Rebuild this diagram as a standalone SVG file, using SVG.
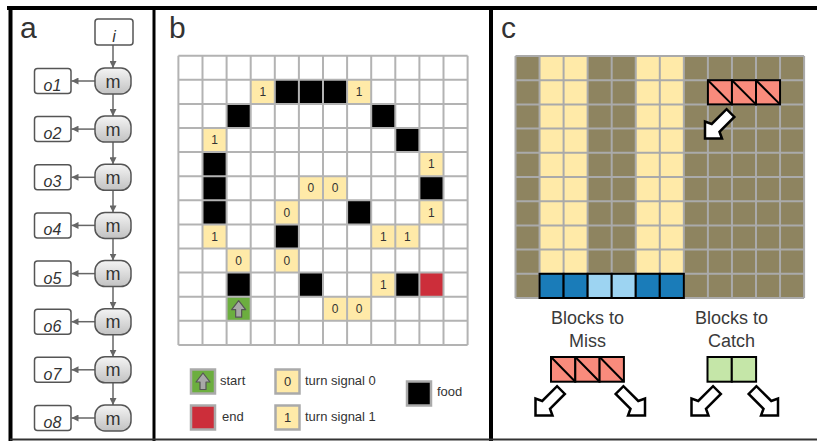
<svg xmlns="http://www.w3.org/2000/svg" width="817" height="441" viewBox="0 0 817 441">
<defs>
<linearGradient id="mg" x1="0" y1="0" x2="0" y2="1">
<stop offset="0" stop-color="#f4f4f4"/>
<stop offset="1" stop-color="#c2c2c2"/>
</linearGradient>
<marker id="ah" viewBox="0 0 10 10" refX="10" refY="5" markerWidth="7" markerHeight="7" markerUnits="userSpaceOnUse" orient="auto">
<path d="M0,0 L10,5 L0,10 z" fill="#666"/>
</marker>
<polygon id="barrow" points="0,0 -12,-12 -15,-5.5 -36,-5.5 -36,5.5 -15,5.5 -12,12" fill="#fff" stroke="#000" stroke-width="2.5" stroke-linejoin="miter"/>
<path id="uparrow" d="M0,-8.5 L7,0.5 L3,0.5 L3,8 L-3,8 L-3,0.5 L-7,0.5 Z" fill="#a8a8a8" stroke="#555" stroke-width="1.2" stroke-linejoin="round"/>
</defs>
<style>
.lbl{font-family:"Liberation Sans",Arial,sans-serif;font-size:30px;fill:#333}
.ob{fill:#fff;stroke:#555;stroke-width:1.5}
.mb{fill:url(#mg);stroke:#555;stroke-width:1.5}
.it{font-family:"Liberation Sans",Arial,sans-serif;font-size:16px;font-style:italic;fill:#333;text-anchor:middle}
.mt{font-family:"Liberation Sans",Arial,sans-serif;font-size:18px;fill:#333;text-anchor:middle}
.conn line{stroke:#666;stroke-width:1.5;marker-end:url(#ah)}
.bk{fill:#000}
.yl{fill:#ffeaa8}
.rd{fill:#cc2e3a}
.gr{fill:#6cae3f}
.ct{font-family:"Liberation Sans",Arial,sans-serif;font-size:12px;fill:#333;text-anchor:middle}
.lg{font-family:"Liberation Sans",Arial,sans-serif;font-size:13px;fill:#333}
.lgb{stroke:#aaa;stroke-width:2.5}
.gl{fill:none;stroke:#b3b3b3;stroke-width:2}
.bt{font-family:"Liberation Sans",Arial,sans-serif;font-size:18px;fill:#3a3a3a;text-anchor:middle}
.rb{fill:#f98b7c;stroke:#000;stroke-width:2}
.gb{fill:#c5e6a8;stroke:#000;stroke-width:2}
.dg{stroke:#000;stroke-width:2}
</style>
<rect x="0" y="0" width="817" height="441" fill="#fff"/>
<!-- frames -->
<g id="frames" fill="none" stroke="#000">
<line x1="7" y1="8" x2="817" y2="8" stroke-width="4"/>
<line x1="10.5" y1="6" x2="10.5" y2="441" stroke-width="4"/>
<line x1="154" y1="6" x2="154" y2="441" stroke-width="3"/>
<line x1="491" y1="6" x2="491" y2="441" stroke-width="4"/>
<line x1="10" y1="439.5" x2="817" y2="439.5" stroke-width="2" stroke="#333"/>
</g>
<!-- Panel a -->
<text class="lbl" x="20" y="37.5">a</text>
<g id="connectors-a" class="conn">
<line x1="113" y1="45" x2="113" y2="68"/>
<line x1="113" y1="94" x2="113" y2="116.1"/>
<line x1="113" y1="142.1" x2="113" y2="164.3"/>
<line x1="113" y1="190.3" x2="113" y2="212.4"/>
<line x1="113" y1="238.4" x2="113" y2="260.6"/>
<line x1="113" y1="286.6" x2="113" y2="308.7"/>
<line x1="113" y1="334.7" x2="113" y2="356.8"/>
<line x1="113" y1="382.8" x2="113" y2="405"/>
<line x1="95" y1="81" x2="71.5" y2="81"/>
<line x1="95" y1="129.1" x2="71.5" y2="129.1"/>
<line x1="95" y1="177.3" x2="71.5" y2="177.3"/>
<line x1="95" y1="225.4" x2="71.5" y2="225.4"/>
<line x1="95" y1="273.6" x2="71.5" y2="273.6"/>
<line x1="95" y1="321.7" x2="71.5" y2="321.7"/>
<line x1="95" y1="369.8" x2="71.5" y2="369.8"/>
<line x1="95" y1="418" x2="71.5" y2="418"/>
</g>
<g id="node-i"><rect class="ob" x="95" y="19" width="38" height="26" rx="3"/><text class="it" x="114" y="42">i</text></g>
<g id="node-m1"><rect class="mb" x="95" y="68" width="36" height="26" rx="10"/><text class="mt" x="113" y="87.5">m</text></g>
<g id="node-m2"><rect class="mb" x="95" y="116.1" width="36" height="26" rx="10"/><text class="mt" x="113" y="135.6">m</text></g>
<g id="node-m3"><rect class="mb" x="95" y="164.3" width="36" height="26" rx="10"/><text class="mt" x="113" y="183.8">m</text></g>
<g id="node-m4"><rect class="mb" x="95" y="212.4" width="36" height="26" rx="10"/><text class="mt" x="113" y="231.9">m</text></g>
<g id="node-m5"><rect class="mb" x="95" y="260.6" width="36" height="26" rx="10"/><text class="mt" x="113" y="280.1">m</text></g>
<g id="node-m6"><rect class="mb" x="95" y="308.7" width="36" height="26" rx="10"/><text class="mt" x="113" y="328.2">m</text></g>
<g id="node-m7"><rect class="mb" x="95" y="356.8" width="36" height="26" rx="10"/><text class="mt" x="113" y="376.3">m</text></g>
<g id="node-m8"><rect class="mb" x="95" y="405" width="36" height="26" rx="10"/><text class="mt" x="113" y="424.5">m</text></g>
<g id="node-o1"><rect class="ob" x="34.5" y="68.5" width="36.5" height="25" rx="3"/><text class="it" x="52.5" y="91">o1</text></g>
<g id="node-o2"><rect class="ob" x="34.5" y="116.6" width="36.5" height="25" rx="3"/><text class="it" x="52.5" y="139.1">o2</text></g>
<g id="node-o3"><rect class="ob" x="34.5" y="164.8" width="36.5" height="25" rx="3"/><text class="it" x="52.5" y="187.3">o3</text></g>
<g id="node-o4"><rect class="ob" x="34.5" y="212.9" width="36.5" height="25" rx="3"/><text class="it" x="52.5" y="235.4">o4</text></g>
<g id="node-o5"><rect class="ob" x="34.5" y="261.1" width="36.5" height="25" rx="3"/><text class="it" x="52.5" y="283.6">o5</text></g>
<g id="node-o6"><rect class="ob" x="34.5" y="309.2" width="36.5" height="25" rx="3"/><text class="it" x="52.5" y="331.7">o6</text></g>
<g id="node-o7"><rect class="ob" x="34.5" y="357.3" width="36.5" height="25" rx="3"/><text class="it" x="52.5" y="379.8">o7</text></g>
<g id="node-o8"><rect class="ob" x="34.5" y="405.5" width="36.5" height="25" rx="3"/><text class="it" x="52.5" y="428">o8</text></g>
<!-- Panel b -->
<text class="lbl" x="169" y="37.5">b</text>
<g id="grid-b">
<rect x="178.4" y="55.7" width="289.2" height="289.2" fill="#fff"/>
<g class="bk">
<rect x="274.8" y="79.8" width="24.1" height="24.1"/>
<rect x="298.9" y="79.8" width="24.1" height="24.1"/>
<rect x="323.0" y="79.8" width="24.1" height="24.1"/>
<rect x="226.6" y="103.9" width="24.1" height="24.1"/>
<rect x="371.2" y="103.9" width="24.1" height="24.1"/>
<rect x="395.3" y="128.0" width="24.1" height="24.1"/>
<rect x="202.5" y="152.1" width="24.1" height="24.1"/>
<rect x="202.5" y="176.2" width="24.1" height="24.1"/>
<rect x="419.4" y="176.2" width="24.1" height="24.1"/>
<rect x="202.5" y="200.3" width="24.1" height="24.1"/>
<rect x="347.1" y="200.3" width="24.1" height="24.1"/>
<rect x="274.8" y="224.4" width="24.1" height="24.1"/>
<rect x="226.6" y="272.6" width="24.1" height="24.1"/>
<rect x="298.9" y="272.6" width="24.1" height="24.1"/>
<rect x="395.3" y="272.6" width="24.1" height="24.1"/>
</g>
<g class="yl">
<rect x="250.7" y="79.8" width="24.1" height="24.1"/>
<rect x="347.1" y="79.8" width="24.1" height="24.1"/>
<rect x="202.5" y="128.0" width="24.1" height="24.1"/>
<rect x="419.4" y="152.1" width="24.1" height="24.1"/>
<rect x="419.4" y="200.3" width="24.1" height="24.1"/>
<rect x="202.5" y="224.4" width="24.1" height="24.1"/>
<rect x="371.2" y="224.4" width="24.1" height="24.1"/>
<rect x="395.3" y="224.4" width="24.1" height="24.1"/>
<rect x="371.2" y="272.6" width="24.1" height="24.1"/>
<rect x="298.9" y="176.2" width="24.1" height="24.1"/>
<rect x="323.0" y="176.2" width="24.1" height="24.1"/>
<rect x="274.8" y="200.3" width="24.1" height="24.1"/>
<rect x="226.6" y="248.5" width="24.1" height="24.1"/>
<rect x="274.8" y="248.5" width="24.1" height="24.1"/>
<rect x="323.0" y="296.7" width="24.1" height="24.1"/>
<rect x="347.1" y="296.7" width="24.1" height="24.1"/>
</g>
<rect class="rd" x="419.4" y="272.6" width="24.1" height="24.1"/>
<rect class="gr" x="226.6" y="296.7" width="24.1" height="24.1"/>
<use href="#uparrow" x="238.65" y="309.2"/>
<g class="ct">
<text x="262.75" y="96.0">1</text>
<text x="359.15" y="96.0">1</text>
<text x="214.55" y="144.2">1</text>
<text x="431.45" y="168.3">1</text>
<text x="431.45" y="216.5">1</text>
<text x="214.55" y="240.6">1</text>
<text x="383.25" y="240.6">1</text>
<text x="407.35" y="240.6">1</text>
<text x="383.25" y="288.8">1</text>
<text x="310.95" y="192.4">0</text>
<text x="335.05" y="192.4">0</text>
<text x="286.85" y="216.5">0</text>
<text x="238.65" y="264.7">0</text>
<text x="286.85" y="264.7">0</text>
<text x="335.05" y="312.9">0</text>
<text x="359.15" y="312.9">0</text>
</g>
<path class="gl" d="M178.4,55.7V344.9M202.5,55.7V344.9M226.6,55.7V344.9M250.7,55.7V344.9M274.8,55.7V344.9M298.9,55.7V344.9M323.0,55.7V344.9M347.1,55.7V344.9M371.2,55.7V344.9M395.3,55.7V344.9M419.4,55.7V344.9M443.5,55.7V344.9M467.6,55.7V344.9M178.4,55.7H467.6M178.4,79.8H467.6M178.4,103.9H467.6M178.4,128.0H467.6M178.4,152.1H467.6M178.4,176.2H467.6M178.4,200.3H467.6M178.4,224.4H467.6M178.4,248.5H467.6M178.4,272.6H467.6M178.4,296.7H467.6M178.4,320.8H467.6M178.4,344.9H467.6"/>
</g>
<g id="legend-b">
<rect class="gr lgb" x="191" y="369.5" width="24" height="24"/>
<use href="#uparrow" x="203" y="381.5"/>
<text class="lg" x="220" y="384.5">start</text>
<rect class="rd lgb" x="191" y="405.5" width="24" height="24"/>
<text class="lg" x="222" y="421">end</text>
<rect class="yl lgb" x="275.5" y="369.5" width="24" height="24"/>
<text class="ct" x="287.5" y="386" style="font-size:13px">0</text>
<text class="lg" x="305" y="384.5">turn signal 0</text>
<rect class="yl lgb" x="275.5" y="405.5" width="24" height="24"/>
<text class="ct" x="287.5" y="422" style="font-size:13px">1</text>
<text class="lg" x="305" y="421">turn signal 1</text>
<rect class="bk lgb" x="407" y="381.5" width="24" height="24"/>
<text class="lg" x="437" y="396">food</text>
</g>
<!-- Panel c -->
<text class="lbl" x="501" y="37.5">c</text>
<g id="grid-c">
<rect x="515.5" y="56" width="288.6" height="242" fill="#8e8460"/>
<rect x="539.55" y="56" width="48.1" height="217.8" fill="#ffeaa8"/>
<rect x="635.75" y="56" width="48.1" height="217.8" fill="#ffeaa8"/>
<path fill="none" stroke="#aaa" stroke-width="2" d="M515.5,56V298M539.55,56V298M563.6,56V298M587.65,56V298M611.7,56V298M635.75,56V298M659.8,56V298M683.85,56V298M707.9,56V298M731.95,56V298M756.0,56V298M780.05,56V298M804.1,56V298M515.5,56H804.1M515.5,80.2H804.1M515.5,104.4H804.1M515.5,128.6H804.1M515.5,152.8H804.1M515.5,177H804.1M515.5,201.2H804.1M515.5,225.4H804.1M515.5,249.6H804.1M515.5,273.8H804.1M515.5,298H804.1"/>
</g>
<g id="paddle" stroke="#000" stroke-width="2">
<rect x="539.55" y="273.8" width="24.05" height="24.2" fill="#1a7cb9"/>
<rect x="563.6" y="273.8" width="24.05" height="24.2" fill="#1a7cb9"/>
<rect x="587.65" y="273.8" width="24.05" height="24.2" fill="#9dd4f2"/>
<rect x="611.7" y="273.8" width="24.05" height="24.2" fill="#9dd4f2"/>
<rect x="635.75" y="273.8" width="24.05" height="24.2" fill="#1a7cb9"/>
<rect x="659.8" y="273.8" width="24.05" height="24.2" fill="#1a7cb9"/>
</g>
<g id="falling-block">
<rect class="rb" x="707.9" y="80.2" width="24.05" height="24.2"/>
<rect class="rb" x="731.95" y="80.2" width="24.05" height="24.2"/>
<rect class="rb" x="756.0" y="80.2" width="24.05" height="24.2"/>
<path class="dg" d="M707.9,80.2L731.95,104.4M731.95,80.2L756,104.4M756,80.2L780.05,104.4"/>
</g>
<use href="#barrow" transform="translate(705,138.5) rotate(135)"/>
<g id="miss">
<text class="bt" x="587.5" y="324">Blocks to</text>
<text class="bt" x="587.5" y="346.5">Miss</text>
<rect class="rb" x="551" y="357" width="24.3" height="24.7"/>
<rect class="rb" x="575.3" y="357" width="24.3" height="24.7"/>
<rect class="rb" x="599.6" y="357" width="24.3" height="24.7"/>
<path class="dg" d="M551,357L575.3,381.7M575.3,357L599.6,381.7M599.6,357L623.9,381.7"/>
<use href="#barrow" transform="translate(535.5,415.5) rotate(135)"/>
<use href="#barrow" transform="translate(645,415.5) rotate(45)"/>
</g>
<g id="catch">
<text class="bt" x="731.5" y="324">Blocks to</text>
<text class="bt" x="731.5" y="346.5">Catch</text>
<rect class="gb" x="707.5" y="357" width="24.3" height="24.7"/>
<rect class="gb" x="731.8" y="357" width="24.3" height="24.7"/>
<use href="#barrow" transform="translate(691.5,415.5) rotate(135)"/>
<use href="#barrow" transform="translate(778,415.5) rotate(45)"/>
</g>
</svg>
